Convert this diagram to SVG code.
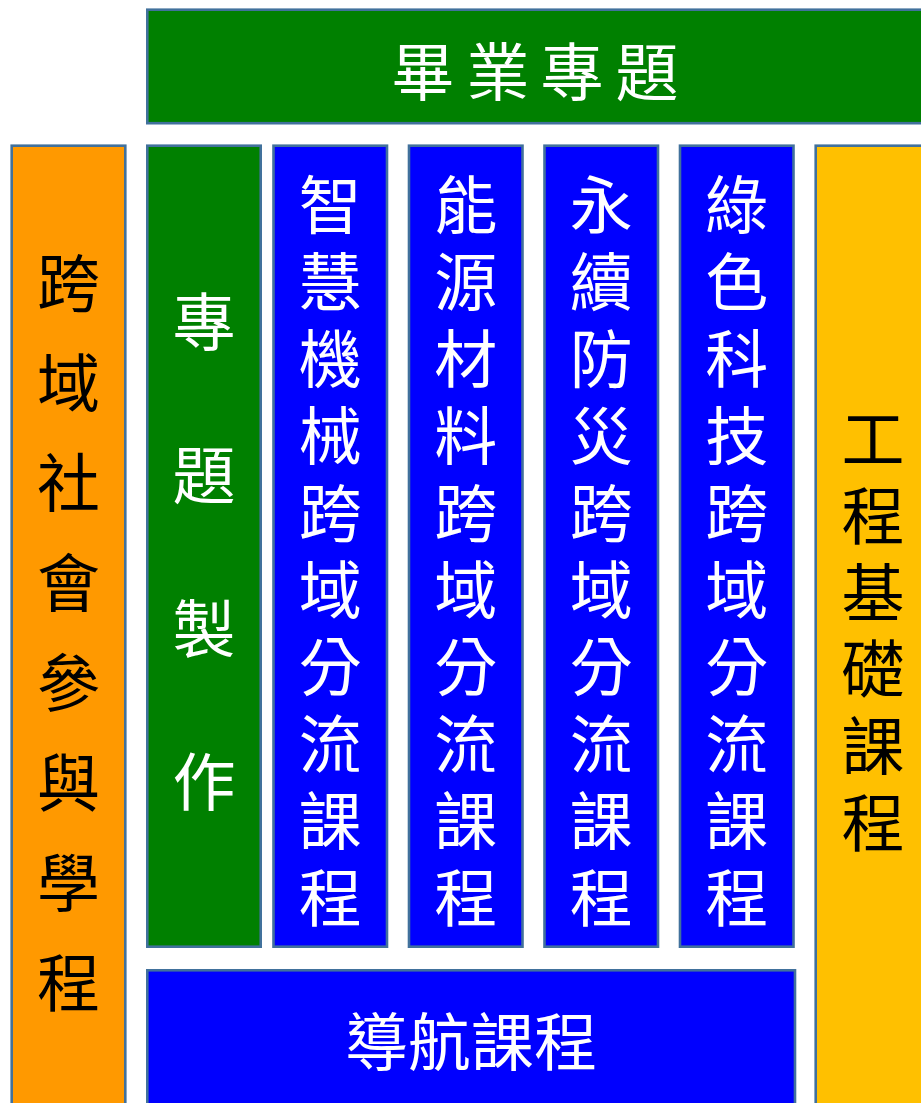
<svg xmlns="http://www.w3.org/2000/svg" width="921" height="1103" viewBox="0 0 921 1103">
<style>
.box{stroke:#41719C;stroke-width:2.6}
.g{fill:#008000}.b{fill:#0000FF}.o{fill:#FF9900}.y{fill:#FFC000}
text{font-family:"Noto Sans CJK TC","Noto Sans CJK SC",sans-serif;font-size:63px;text-anchor:middle;dominant-baseline:central}
.w{fill:#FFFFFF}.k{fill:#000000}
</style>
<rect width="921" height="1103" fill="#FFFFFF"/>
<g id="capstone">
<rect class="box g" x="147.3" y="9.7" width="776" height="113.5"/>
<text class="w" x="423 498 572 647" y="67">畢業專題</text>
</g>
<g id="social">
<rect class="box o" x="11.7" y="145.7" width="113.6" height="980"/>
<text class="k"><tspan x="68.5" y="278">跨</tspan><tspan x="68.5" y="378">域</tspan><tspan x="68.5" y="478">社</tspan><tspan x="68.5" y="578">會</tspan><tspan x="68.5" y="678">參</tspan><tspan x="68.5" y="778">與</tspan><tspan x="68.5" y="878">學</tspan><tspan x="68.5" y="978">程</tspan></text>
</g>
<g id="project">
<rect class="box g" x="147.3" y="145.7" width="113.4" height="801"/>
<text class="w"><tspan x="204" y="317">專</tspan><tspan x="204" y="470">題</tspan><tspan x="204" y="624">製</tspan><tspan x="204" y="777">作</tspan></text>
</g>
<g id="smart-machinery">
<rect class="box b" x="273.5" y="145.7" width="113.5" height="801"/>
<text class="w"><tspan x="330.3" y="200">智</tspan><tspan x="330.3" y="277">慧</tspan><tspan x="330.3" y="354">機</tspan><tspan x="330.3" y="431">械</tspan><tspan x="330.3" y="508">跨</tspan><tspan x="330.3" y="585">域</tspan><tspan x="330.3" y="662">分</tspan><tspan x="330.3" y="739">流</tspan><tspan x="330.3" y="816">課</tspan><tspan x="330.3" y="893">程</tspan></text>
</g>
<g id="energy-materials">
<rect class="box b" x="409" y="145.7" width="113.5" height="801"/>
<text class="w"><tspan x="465.8" y="200">能</tspan><tspan x="465.8" y="277">源</tspan><tspan x="465.8" y="354">材</tspan><tspan x="465.8" y="431">料</tspan><tspan x="465.8" y="508">跨</tspan><tspan x="465.8" y="585">域</tspan><tspan x="465.8" y="662">分</tspan><tspan x="465.8" y="739">流</tspan><tspan x="465.8" y="816">課</tspan><tspan x="465.8" y="893">程</tspan></text>
</g>
<g id="disaster-prevention">
<rect class="box b" x="544.5" y="145.7" width="113.5" height="801"/>
<text class="w"><tspan x="601.3" y="200">永</tspan><tspan x="601.3" y="277">續</tspan><tspan x="601.3" y="354">防</tspan><tspan x="601.3" y="431">災</tspan><tspan x="601.3" y="508">跨</tspan><tspan x="601.3" y="585">域</tspan><tspan x="601.3" y="662">分</tspan><tspan x="601.3" y="739">流</tspan><tspan x="601.3" y="816">課</tspan><tspan x="601.3" y="893">程</tspan></text>
</g>
<g id="green-tech">
<rect class="box b" x="680" y="145.7" width="113.5" height="801"/>
<text class="w"><tspan x="736.8" y="200">綠</tspan><tspan x="736.8" y="277">色</tspan><tspan x="736.8" y="354">科</tspan><tspan x="736.8" y="431">技</tspan><tspan x="736.8" y="508">跨</tspan><tspan x="736.8" y="585">域</tspan><tspan x="736.8" y="662">分</tspan><tspan x="736.8" y="739">流</tspan><tspan x="736.8" y="816">課</tspan><tspan x="736.8" y="893">程</tspan></text>
</g>
<g id="engineering-basics">
<rect class="box y" x="815.7" y="145.7" width="120" height="980"/>
<text class="k"><tspan x="873" y="434">工</tspan><tspan x="873" y="511">程</tspan><tspan x="873" y="588">基</tspan><tspan x="873" y="664">礎</tspan><tspan x="873" y="741">課</tspan><tspan x="873" y="818">程</tspan></text>
</g>
<g id="navigation">
<rect class="box b" x="147.3" y="970.3" width="647.7" height="200"/>
<text class="w" x="376.5 439.5 502.5 565.5" y="1037">導航課程</text>
</g>
<g id="connectors"></g>
</svg>
